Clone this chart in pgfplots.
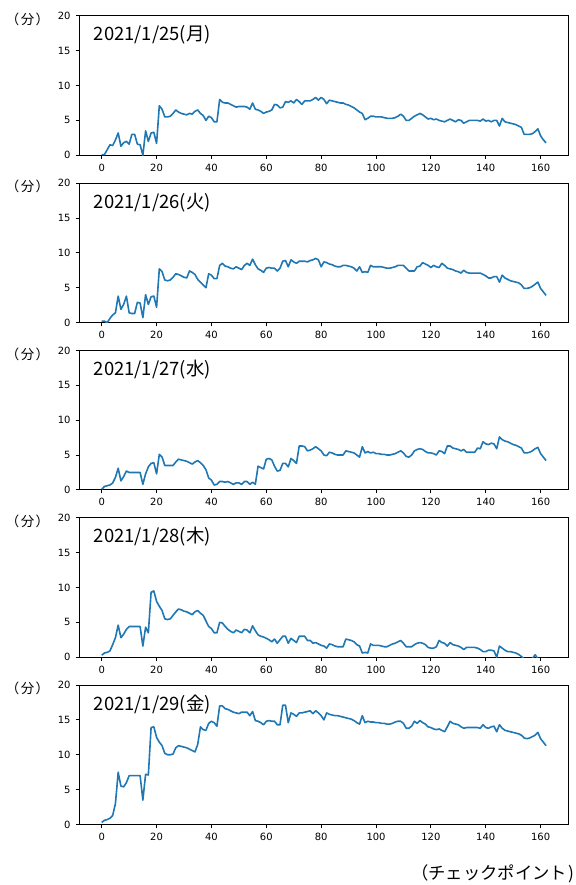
\documentclass[border=0pt]{standalone}
\usepackage{pgfplots}
\pgfplotsset{compat=1.18}
\usepackage{fontspec}
\setmainfont{Noto Sans CJK JP}
\newfontfamily\dejavu{DejaVu Sans}
\definecolor{mplblue}{HTML}{1F77B4}
\pgfplotsset{
 panel/.style={
  scale only axis, width=488.8bp, height=139.5bp,
  anchor=south west,
  xmin=-8.1, xmax=170.1, ymin=0, ymax=20,
  xtick={0,20,...,160}, ytick={0,5,...,20},
  tick pos=left, tick align=outside,
  major tick length=3.5bp,
  major tick style={black, line width=0.8bp},
  axis line style={line width=0.8bp},
  ticklabel style={font=\dejavu\fontsize{10}{12}\selectfont, text=black},
  yticklabel style={xshift=-2bp},
  xticklabel style={yshift=-1.5bp},
  /pgf/number format/assume math mode=true,
  clip mode=individual,
  cycle list={{mplblue, mark=none}},
  every axis plot post/.append style={line width=1.6bp, line join=round},
 },
}
\tikzset{
 ttl/.style={anchor=base west, xshift=10.8bp, yshift=-25bp, font=\fontsize{18.5}{22}\selectfont, text=black},
 ylab/.style={anchor=center, xshift=-52bp, yshift=-3.5bp, font=\fontsize{13.5}{15}\selectfont, text=black},
}
\newcommand{\fen}{（\kern1.5bp 分\kern1.5bp）}
\begin{document}
\begin{tikzpicture}
\path[use as bounding box] (0,0) rectangle (576bp,885bp);

% Panel 1
\begin{axis}[panel, at={(79.5bp,729.7bp)}]
\addplot coordinates {(0,0.1)(1,0.1)(2,0.8)(3,1.5)(4,1.4)(5,2.2)(6,3.2)(7,1.3)(8,1.8)(9,2.0)(10,1.6)(11,3.0)(12,3.0)(13,1.6)(14,1.5)(15,0)(16,3.5)(17,2.0)(18,3.2)(19,3.3)(20,1.7)(21,7.1)(22,6.6)(23,5.5)(24,5.5)(25,5.6)(26,6.0)(27,6.5)(28,6.2)(29,6.0)(30,5.9)(31,5.8)(32,6.0)(33,5.9)(34,6.3)(35,6.5)(36,6.0)(37,5.7)(38,5.0)(39,5.6)(40,5.4)(41,4.8)(42,4.8)(43,8.0)(44,7.6)(45,7.5)(46,7.5)(47,7.3)(48,7.1)(49,6.9)(50,7.0)(51,7.0)(52,7.0)(53,6.9)(54,6.6)(55,7.5)(56,6.6)(57,6.5)(58,6.3)(59,6.0)(60,6.2)(61,6.3)(62,6.5)(63,7.3)(64,7.2)(65,6.8)(66,6.9)(67,7.7)(68,7.6)(69,7.8)(70,7.5)(71,8.0)(72,7.7)(73,7.3)(74,7.8)(75,7.8)(76,7.8)(77,8.0)(78,8.3)(79,7.9)(80,8.3)(81,8.0)(82,7.4)(83,7.9)(84,7.8)(85,7.7)(86,7.6)(87,7.5)(88,7.5)(89,7.3)(90,7.2)(91,7.0)(92,6.8)(93,6.5)(94,6.2)(95,6.0)(96,5.1)(97,5.3)(98,5.6)(99,5.6)(100,5.5)(101,5.5)(102,5.5)(103,5.4)(104,5.3)(105,5.3)(106,5.3)(107,5.4)(108,5.6)(109,5.9)(110,5.6)(111,5.0)(112,5.0)(113,5.3)(114,5.6)(115,5.8)(116,6.0)(117,5.8)(118,5.5)(119,5.2)(120,5.3)(121,5.1)(122,5.2)(123,5.0)(124,4.9)(125,4.8)(126,5.0)(127,5.2)(128,5.0)(129,4.8)(130,5.1)(131,5.0)(132,4.6)(133,4.8)(134,5.0)(135,5.0)(136,5.0)(137,5.0)(138,4.9)(139,5.2)(140,4.9)(141,5.0)(142,4.8)(143,5.0)(144,5.0)(145,4.2)(146,5.3)(147,4.8)(148,4.7)(149,4.6)(150,4.5)(151,4.4)(152,4.2)(153,4.0)(154,3.0)(155,3.0)(156,3.0)(157,3.1)(158,3.4)(159,3.8)(160,2.8)(161,2.2)(162,1.8)};
\node[ttl] at (rel axis cs:0,1) {2021/1/25(月)};
\node[ylab] at (rel axis cs:0,1) {\fen};
\end{axis}

% Panel 2
\begin{axis}[panel, at={(79.5bp,562.4bp)}]
\addplot coordinates {(0,0.2)(1,0.2)(2,0)(3,0.6)(4,1.1)(5,1.4)(6,3.8)(7,1.9)(8,2.6)(9,3.8)(10,1.4)(11,1.3)(12,1.3)(13,2.9)(14,2.8)(15,0.7)(16,4.0)(17,2.6)(18,3.7)(19,3.8)(20,2.2)(21,7.7)(22,7.3)(23,6.1)(24,6.0)(25,6.1)(26,6.5)(27,7.0)(28,6.9)(29,6.7)(30,6.5)(31,6.4)(32,7.4)(33,7.2)(34,6.9)(35,6.2)(36,5.8)(37,5.4)(38,5.0)(39,7.0)(40,6.8)(41,6.3)(42,6.3)(43,8.2)(44,8.5)(45,8.1)(46,8.0)(47,7.8)(48,7.7)(49,8.0)(50,7.8)(51,7.6)(52,8.2)(53,8.5)(54,8.2)(55,9.1)(56,8.3)(57,7.7)(58,7.5)(59,7.2)(60,7.8)(61,7.9)(62,7.8)(63,7.8)(64,7.4)(65,7.8)(66,8.8)(67,8.9)(68,8.0)(69,9.0)(70,8.7)(71,8.5)(72,8.8)(73,8.8)(74,8.8)(75,8.7)(76,8.9)(77,9.0)(78,9.2)(79,9.0)(80,8.0)(81,8.7)(82,8.6)(83,8.4)(84,8.3)(85,8.1)(86,8.0)(87,8.0)(88,8.2)(89,8.2)(90,8.1)(91,8.0)(92,7.8)(93,7.4)(94,8.0)(95,7.2)(96,7.3)(97,7.2)(98,8.2)(99,8.0)(100,8.0)(101,8.0)(102,8.0)(103,7.9)(104,7.8)(105,7.8)(106,7.9)(107,8.0)(108,8.2)(109,8.2)(110,8.2)(111,7.8)(112,7.4)(113,7.4)(114,7.4)(115,8.0)(116,8.1)(117,8.6)(118,8.4)(119,8.2)(120,7.9)(121,8.2)(122,8.0)(123,7.9)(124,8.5)(125,8.2)(126,7.8)(127,7.7)(128,7.6)(129,7.4)(130,7.3)(131,7.1)(132,7.5)(133,7.2)(134,7.1)(135,7.1)(136,7.1)(137,7.1)(138,7.1)(139,6.9)(140,6.7)(141,6.4)(142,6.4)(143,6.6)(144,6.6)(145,5.8)(146,6.8)(147,6.4)(148,6.2)(149,6.0)(150,5.9)(151,5.8)(152,5.7)(153,5.4)(154,4.9)(155,4.9)(156,5.0)(157,5.2)(158,5.5)(159,5.8)(160,4.9)(161,4.4)(162,3.9)};
\node[ttl] at (rel axis cs:0,1) {2021/1/26(火)};
\node[ylab] at (rel axis cs:0,1) {\fen};
\end{axis}

% Panel 3
\begin{axis}[panel, at={(79.5bp,395.1bp)}]
\addplot coordinates {(0,0.1)(1,0.5)(2,0.6)(3,0.7)(4,1.0)(5,1.8)(6,3.1)(7,1.3)(8,1.9)(9,2.7)(10,2.5)(11,2.5)(12,2.5)(13,2.5)(14,2.5)(15,0.8)(16,2.3)(17,3.3)(18,3.8)(19,3.9)(20,2.3)(21,5.1)(22,4.7)(23,3.5)(24,3.5)(25,3.5)(26,3.5)(27,4.0)(28,4.4)(29,4.3)(30,4.2)(31,4.1)(32,3.9)(33,3.7)(34,4.0)(35,4.2)(36,3.9)(37,3.5)(38,2.9)(39,1.7)(40,1.4)(41,0.7)(42,0.8)(43,1.2)(44,1.2)(45,1.1)(46,1.2)(47,1.0)(48,0.8)(49,1.0)(50,1.0)(51,0.8)(52,1.2)(53,1.2)(54,0.8)(55,1.1)(56,0.8)(57,3.4)(58,3.2)(59,3.0)(60,4.4)(61,4.5)(62,4.3)(63,3.4)(64,2.7)(65,2.8)(66,3.8)(67,3.8)(68,3.3)(69,4.5)(70,4.2)(71,3.8)(72,6.3)(73,6.3)(74,6.2)(75,5.6)(76,5.7)(77,5.9)(78,6.2)(79,5.9)(80,5.6)(81,5.0)(82,4.9)(83,5.4)(84,5.3)(85,5.1)(86,5.0)(87,5.0)(88,5.0)(89,5.6)(90,5.5)(91,5.4)(92,5.3)(93,5.0)(94,4.7)(95,6.2)(96,5.3)(97,5.5)(98,5.3)(99,5.4)(100,5.2)(101,5.2)(102,5.1)(103,5.1)(104,5.0)(105,5.0)(106,5.1)(107,5.2)(108,5.4)(109,5.6)(110,5.3)(111,4.8)(112,4.7)(113,5.0)(114,5.6)(115,5.8)(116,5.9)(117,5.8)(118,5.5)(119,5.3)(120,5.3)(121,5.2)(122,5.0)(123,5.6)(124,5.5)(125,5.2)(126,6.3)(127,6.3)(128,6.0)(129,5.9)(130,5.8)(131,5.6)(132,5.8)(133,5.4)(134,5.4)(135,5.4)(136,5.4)(137,6.0)(138,5.9)(139,6.9)(140,6.6)(141,6.5)(142,6.7)(143,6.6)(144,5.9)(145,7.6)(146,7.2)(147,7.0)(148,6.9)(149,6.7)(150,6.5)(151,6.4)(152,6.2)(153,6.0)(154,5.3)(155,5.3)(156,5.4)(157,5.6)(158,5.9)(159,6.1)(160,5.2)(161,4.7)(162,4.2)};
\node[ttl] at (rel axis cs:0,1) {2021/1/27(水)};
\node[ylab] at (rel axis cs:0,1) {\fen};
\end{axis}

% Panel 4
\begin{axis}[panel, at={(79.5bp,227.8bp)}]
\addplot coordinates {(0,0.3)(1,0.6)(2,0.7)(3,0.9)(4,1.8)(5,2.8)(6,4.6)(7,2.8)(8,3.3)(9,4.0)(10,4.4)(11,4.4)(12,4.4)(13,4.4)(14,4.4)(15,1.6)(16,4.3)(17,3.5)(18,9.3)(19,9.5)(20,8.0)(21,7.3)(22,6.7)(23,5.5)(24,5.4)(25,5.5)(26,6.0)(27,6.5)(28,6.9)(29,6.8)(30,6.6)(31,6.5)(32,6.3)(33,6.1)(34,6.5)(35,6.7)(36,6.3)(37,6.0)(38,5.2)(39,4.4)(40,4.1)(41,3.5)(42,3.5)(43,5.0)(44,4.9)(45,4.4)(46,4.0)(47,3.7)(48,3.5)(49,3.9)(50,3.7)(51,3.5)(52,4.0)(53,3.9)(54,3.5)(55,4.5)(56,3.8)(57,3.2)(58,3.0)(59,2.9)(60,2.7)(61,2.5)(62,2.2)(63,2.6)(64,2.0)(65,2.5)(66,3.0)(67,3.0)(68,2.0)(69,2.7)(70,2.4)(71,2.1)(72,3.0)(73,3.0)(74,3.0)(75,2.4)(76,2.4)(77,2.0)(78,2.1)(79,1.9)(80,1.7)(81,1.6)(82,1.3)(83,1.9)(84,1.8)(85,1.6)(86,1.5)(87,1.5)(88,1.5)(89,2.6)(90,2.5)(91,2.4)(92,2.2)(93,1.8)(94,1.6)(95,0.6)(96,0.7)(97,0.6)(98,1.9)(99,1.7)(100,1.7)(101,1.7)(102,1.6)(103,1.5)(104,1.5)(105,1.7)(106,1.9)(107,2.0)(108,2.2)(109,2.4)(110,2.0)(111,1.5)(112,1.5)(113,1.5)(114,1.8)(115,2.0)(116,2.1)(117,2.0)(118,1.8)(119,1.4)(120,1.3)(121,1.3)(122,1.5)(123,2.4)(124,2.1)(125,2.0)(126,1.6)(127,2.1)(128,1.8)(129,1.7)(130,1.6)(131,1.4)(132,1.1)(133,1.4)(134,1.4)(135,1.4)(136,1.4)(137,1.3)(138,1.1)(139,0.8)(140,0.8)(141,1.0)(142,1.0)(143,0.9)(144,0)(145,1.6)(146,1.3)(147,1.0)(148,0.8)(149,0.8)(150,0.7)(151,0.6)(152,0.4)(153,0.1)(154,-0.2)(155,-0.2)(156,-0.2)(157,-0.2)(158,0.35)(159,-0.2)(160,-0.2)(161,-0.2)(162,-0.2)};
\node[ttl] at (rel axis cs:0,1) {2021/1/28(木)};
\node[ylab] at (rel axis cs:0,1) {\fen};
\end{axis}

% Panel 5
\begin{axis}[panel, at={(79.5bp,60.5bp)}]
\addplot coordinates {(0,0.3)(1,0.6)(2,0.7)(3,0.9)(4,1.3)(5,3.0)(6,7.5)(7,5.5)(8,5.4)(9,6.0)(10,7.0)(11,7.0)(12,7.0)(13,7.0)(14,7.0)(15,3.5)(16,7.2)(17,7.1)(18,13.9)(19,14.0)(20,12.5)(21,11.8)(22,11.3)(23,10.2)(24,10.0)(25,10.0)(26,10.1)(27,11.0)(28,11.3)(29,11.2)(30,11.1)(31,11.0)(32,10.8)(33,10.6)(34,10.4)(35,11.5)(36,14.0)(37,13.6)(38,13.5)(39,14.5)(40,14.8)(41,14.6)(42,14.1)(43,17.0)(44,17.0)(45,16.6)(46,16.5)(47,16.3)(48,16.1)(49,16.0)(50,15.9)(51,16.1)(52,16.1)(53,16.1)(54,15.6)(55,16.2)(56,14.9)(57,14.8)(58,14.6)(59,14.3)(60,14.8)(61,14.9)(62,14.8)(63,14.8)(64,14.3)(65,14.3)(66,17.1)(67,17.1)(68,14.6)(69,16.0)(70,15.8)(71,15.5)(72,16.0)(73,16.0)(74,16.1)(75,16.2)(76,16.3)(77,15.9)(78,16.3)(79,16.0)(80,15.6)(81,15.0)(82,16.0)(83,15.8)(84,15.7)(85,15.6)(86,15.6)(87,15.5)(88,15.4)(89,15.3)(90,15.2)(91,15.1)(92,14.9)(93,14.6)(94,14.4)(95,15.6)(96,14.6)(97,14.8)(98,14.7)(99,14.7)(100,14.6)(101,14.6)(102,14.5)(103,14.5)(104,14.4)(105,14.4)(106,14.5)(107,14.7)(108,14.8)(109,14.8)(110,14.5)(111,13.8)(112,13.8)(113,14.1)(114,14.8)(115,14.5)(116,14.9)(117,14.6)(118,14.4)(119,14.0)(120,13.9)(121,13.7)(122,13.6)(123,13.7)(124,13.5)(125,13.3)(126,14.0)(127,14.8)(128,14.5)(129,14.4)(130,14.3)(131,14.0)(132,13.8)(133,13.9)(134,13.9)(135,13.9)(136,13.9)(137,13.9)(138,13.8)(139,14.3)(140,13.9)(141,13.8)(142,14.0)(143,14.1)(144,13.3)(145,14.3)(146,13.8)(147,13.5)(148,13.4)(149,13.3)(150,13.2)(151,13.1)(152,13.0)(153,12.8)(154,12.4)(155,12.3)(156,12.4)(157,12.6)(158,12.8)(159,13.2)(160,12.3)(161,11.8)(162,11.3)};
\node[ttl] at (rel axis cs:0,1) {2021/1/29(金)};
\node[ylab] at (rel axis cs:0,1) {\fen};
\node[anchor=east, inner sep=0pt, xshift=6.3bp, yshift=-49.5bp, font=\fontsize{17.4}{20}\selectfont, text=black] at (rel axis cs:1,0) {（チェックポイント\kern1.5bp)};
\end{axis}
\end{tikzpicture}
\end{document}
